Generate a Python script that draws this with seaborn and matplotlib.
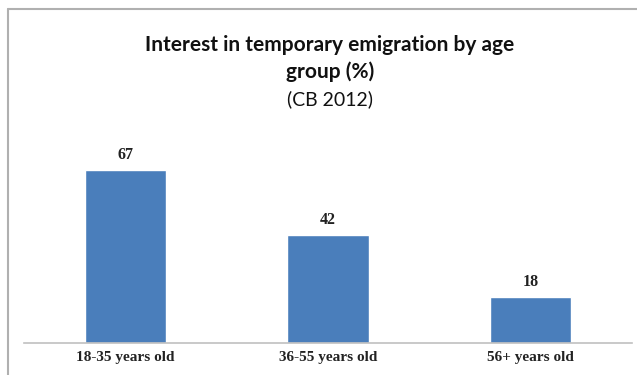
import matplotlib
matplotlib.use("Agg")
import matplotlib.pyplot as plt
import seaborn as sns
import pandas as pd
from matplotlib.lines import Line2D

categories = ["18-35 years old", "36-55 years old", "56+ years old"]
values = [67, 42, 18]
title_lines = ["Interest in temporary emigration by age", "group (%)"]
subtitle = "(CB 2012)"

df = pd.DataFrame({"group": categories, "value": values})

sns.set_theme(style="white")
W, H = 637, 375
fig = plt.figure(figsize=(W / 100, H / 100), dpi=100)

# chart frame: left and top edges (the rest is cropped away)
frame_kw = dict(transform=fig.transFigure, color="#b0b0b0", linewidth=1.5)
fig.add_artist(Line2D([8 / W, 8 / W], [0, 1 - 9 / H], **frame_kw))
fig.add_artist(Line2D([8 / W, 1], [1 - 9 / H, 1 - 9 / H], **frame_kw))

ax = fig.add_axes([24 / W, (H - 343) / H, (632 - 24) / W, 258 / H])
sns.barplot(data=df, x="group", y="value", color="#4a7ebb", width=0.4,
            saturation=1, ax=ax)
ax.set_xlim(-0.5, 2.5)
ax.set_ylim(0, 100)
ax.set_xlabel("")
ax.set_ylabel("")
ax.set_yticks([])
for s in ["top", "right", "left"]:
    ax.spines[s].set_visible(False)
ax.spines["bottom"].set_color("#c0c0c0")
ax.spines["bottom"].set_linewidth(1.2)
ax.tick_params(axis="x", length=0, pad=6)
for lab in ax.get_xticklabels():
    lab.set_fontfamily("Liberation Serif")
    lab.set_fontweight("bold")
    lab.set_fontsize(11)
    lab.set_color("#222222")

for i, v in enumerate(values):
    ax.annotate(str(v), (i, v), xytext=(0, 5), textcoords="offset points",
                ha="center", va="bottom", fontfamily="Liberation Serif",
                fontweight="bold", fontsize=11.5, color="#222222")

fig.text(330 / W, 1 - 45 / H, title_lines[0], ha="center", va="center",
         fontfamily="Lato", fontweight="bold", fontsize=15, color="#111111")
fig.text(330 / W, 1 - 72 / H, title_lines[1], ha="center", va="center",
         fontfamily="Lato", fontweight="bold", fontsize=15, color="#111111")
fig.text(330 / W, 1 - 99 / H, subtitle, ha="center", va="center",
         fontfamily="Lato", fontsize=14, color="#111111")

fig.savefig("out.png", dpi=100, facecolor="white")
